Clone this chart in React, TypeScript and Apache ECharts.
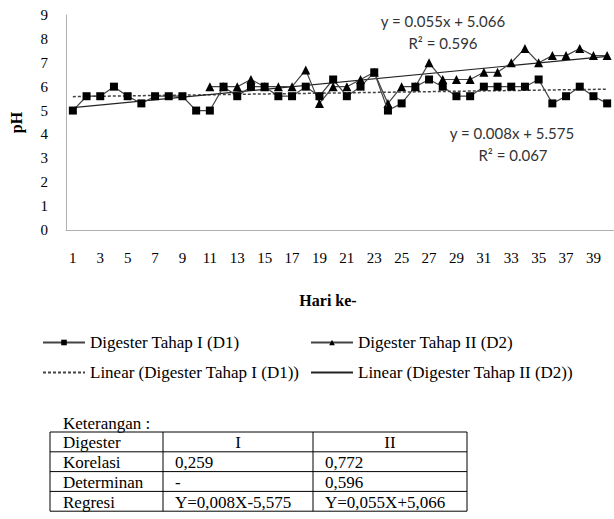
import { useEffect, useRef } from "react";
import * as echarts from "echarts";

const days = ["1","2","3","4","5","6","7","8","9","10","11","12","13","14","15","16","17","18","19","20","21","22","23","24","25","26","27","28","29","30","31","32","33","34","35","36","37","38","39","40"];

const d1 = [5.0,5.6,5.6,6.0,5.6,5.3,5.6,5.6,5.6,5.0, 5.0,6.0,5.6,6.0,6.0,5.6,5.6,6.0,5.6,6.3, 5.6,6.0,6.6,5.0,5.3,6.0,6.3,6.0,5.6,5.6, 6.0,6.0,6.0,6.0,6.3,5.3,5.6,6.0,5.6,5.3];
const d2 = [null,null,null,null,null,null,null,null,null,null, 6.0,6.0,6.0,6.3,6.0,6.0,6.0,6.7,5.3,6.0, 6.0,6.3,6.6,5.3,6.0,6.0,7.0,6.3,6.3,6.3, 6.6,6.6,7.0,7.6,7.0,7.3,7.3,7.6,7.3,7.3];

// trendline coefficients as printed on the chart
const trend1 = { slope: 0.008, intercept: 5.575 };
const trend2 = { slope: 0.055, intercept: 5.066 };

const names = ["Digester Tahap I (D1)", "Digester Tahap II (D2)", "Linear (Digester Tahap I (D1))", "Linear (Digester Tahap II (D2))"];
const eq1 = ["y = 0.008x + 5.575", "R² = 0.067"];
const eq2 = ["y = 0.055x + 5.066", "R² = 0.596"];

const tableTitle = "Keterangan :";
const tableHeader = ["Digester", "I", "II"];
const tableRows = [
  ["Korelasi", "0,259", "0,772"],
  ["Determinan", "-", "0,596"],
  ["Regresi", "Y=0,008X-5,575", "Y=0,055X+5,066"],
];

const SERIF = "'Liberation Serif', 'Times New Roman', serif";
const SANS = "Lato, 'Liberation Sans', sans-serif";

function trendEnds(t: { slope: number; intercept: number }) {
  const n = days.length;
  return [
    [0, t.slope * 1 + t.intercept],
    [n - 1, t.slope * n + t.intercept],
  ];
}

export default function App() {
  const ref = useRef<HTMLDivElement>(null);
  useEffect(() => {
    if (!ref.current) return;
    const chart = echarts.init(ref.current, null, { renderer: "svg" });

    const colX = [50, 163, 313, 467];
    const tTop = 432;
    const rowH = 19.8;
    const allRows = [tableHeader, ...tableRows];
    const graphics: any[] = [];
    for (let r = 0; r <= allRows.length; r++) {
      graphics.push({ type: "line", shape: { x1: colX[0], y1: tTop + r * rowH, x2: colX[3], y2: tTop + r * rowH }, style: { stroke: "#000", lineWidth: 1 } });
    }
    for (let c = 0; c < colX.length; c++) {
      graphics.push({ type: "line", shape: { x1: colX[c], y1: tTop, x2: colX[c], y2: tTop + allRows.length * rowH }, style: { stroke: "#000", lineWidth: 1 } });
    }
    allRows.forEach((row, r) => {
      row.forEach((cell, c) => {
        const isHead = r === 0 && c > 0;
        graphics.push({
          type: "text",
          x: isHead ? (colX[c] + colX[c + 1]) / 2 : colX[c] + (c === 0 ? 13 : 12),
          y: tTop + r * rowH + rowH / 2 + 1,
          style: { text: cell, font: `17px ${SERIF}`, fill: "#000", align: isHead ? "center" : "left", verticalAlign: "middle" },
        });
      });
    });
    graphics.push({ type: "text", x: 63, y: 423, style: { text: tableTitle, font: `17px ${SERIF}`, fill: "#000", align: "left", verticalAlign: "middle" } });
    graphics.push({ type: "text", x: 443, y: 21, style: { text: eq2[0], font: `15px ${SANS}`, fill: "#333", align: "center", verticalAlign: "middle" } });
    graphics.push({ type: "text", x: 443, y: 43, style: { text: eq2[1], font: `15px ${SANS}`, fill: "#333", align: "center", verticalAlign: "middle" } });
    graphics.push({ type: "text", x: 512, y: 133, style: { text: eq1[0], font: `15px ${SANS}`, fill: "#333", align: "center", verticalAlign: "middle" } });
    graphics.push({ type: "text", x: 513, y: 155, style: { text: eq1[1], font: `15px ${SANS}`, fill: "#333", align: "center", verticalAlign: "middle" } });

    const legendBase = {
      itemWidth: 42,
      itemHeight: 7,
      itemGap: 0,
      padding: 0,
      textStyle: { fontFamily: SERIF, fontSize: 17, color: "#000" },
    };
    const noSymbol = { itemStyle: { opacity: 0 } };

    chart.setOption({
      animation: false,
      backgroundColor: "#fff",
      grid: { left: 63, right: 0, top: 15, bottom: 289, containLabel: false },
      xAxis: {
        type: "category",
        data: days,
        boundaryGap: true,
        axisLine: { lineStyle: { color: "#b0b0b0", width: 1 } },
        axisTick: { show: false },
        axisLabel: { interval: 1, margin: 20, fontFamily: SERIF, fontSize: 15, color: "#000" },
        name: "Hari ke-",
        nameLocation: "middle",
        nameGap: 62,
        nameTextStyle: { fontFamily: SERIF, fontSize: 16, fontWeight: "bold", color: "#000", padding: [0, 24, 0, 0] },
      },
      yAxis: {
        type: "value",
        min: 0,
        max: 9,
        interval: 1,
        splitLine: { show: false },
        axisLine: { show: true, lineStyle: { color: "#b0b0b0", width: 1 } },
        axisTick: { show: false },
        axisLabel: { margin: 18, fontFamily: SERIF, fontSize: 15, color: "#000" },
        name: "pH",
        nameLocation: "middle",
        nameRotate: 90,
        nameGap: 42,
        nameTextStyle: { fontFamily: SERIF, fontSize: 16, fontWeight: "bold", color: "#000" },
      },
      legend: [
        { ...legendBase, data: [names[0]], left: 42, top: 334 },
        { ...legendBase, data: [names[1]], left: 310, top: 334 },
        { ...legendBase, ...noSymbol, data: [names[2]], left: 42, top: 364 },
        { ...legendBase, ...noSymbol, data: [names[3]], left: 310, top: 364 },
      ],
      series: [
        {
          name: names[2],
          type: "line",
          data: trendEnds(trend1),
          symbol: "none",
          lineStyle: { color: "#444", width: 1.5, type: [3, 2] },
          itemStyle: { color: "#444" },
          z: 1,
        },
        {
          name: names[3],
          type: "line",
          data: trendEnds(trend2),
          symbol: "none",
          lineStyle: { color: "#222", width: 1.2, type: "solid" },
          itemStyle: { color: "#222" },
          z: 1,
        },
        {
          name: names[0],
          type: "line",
          data: d1,
          symbol: "rect",
          symbolSize: 8,
          lineStyle: { color: "#444", width: 1.2 },
          itemStyle: { color: "#000" },
          z: 3,
        },
        {
          name: names[1],
          type: "line",
          data: d2,
          symbol: "triangle",
          symbolSize: 9,
          lineStyle: { color: "#444", width: 1.2 },
          itemStyle: { color: "#000" },
          z: 2,
        },
      ],
      graphic: graphics,
    });
    return () => chart.dispose();
  }, []);
  return <div ref={ref} style={{ position: "fixed", left: 0, top: 0, width: 614, height: 519, background: "#fff" }} />;
}
